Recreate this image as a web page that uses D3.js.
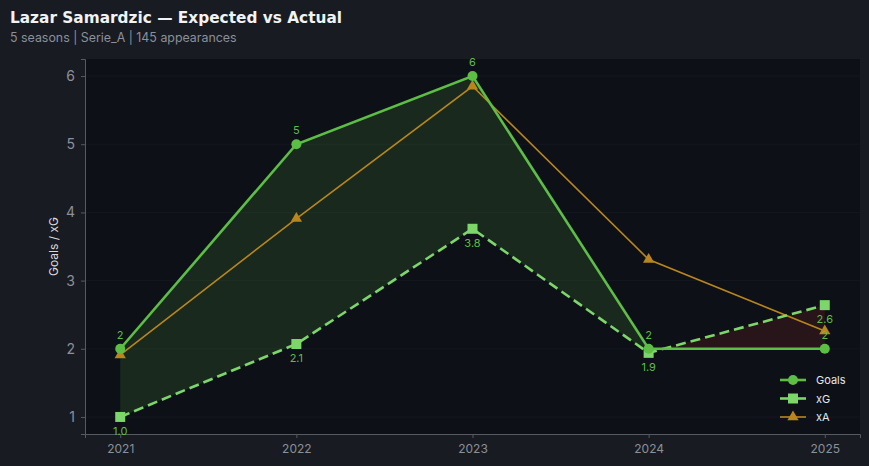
<!DOCTYPE html>
<html><head><meta charset="utf-8">
<script src="https://cdn.jsdelivr.net/npm/d3@7/dist/d3.min.js"></script>
<style>
body{margin:0;background:#181b22;}
svg{display:block;}
</style></head>
<body><svg id="c" width="869" height="466"></svg>
<script>
const seasons = [2021, 2022, 2023, 2024, 2025];
const goals = [2, 5, 6, 2, 2];
const xG = [1.0, 2.07, 3.76, 1.94, 2.64];
const xA = [1.91, 3.91, 5.85, 3.31, 2.26];
const yTicks = [1, 2, 3, 4, 5, 6];
const title = "Lazar Samardzic — Expected vs Actual";
const subtitle = "5 seasons | Serie_A | 145 appearances";

const W = 869, H = 466;
const m = {l: 85, r: 9, t: 59, b: 32};
const svg = d3.select("#c");
svg.append("rect").attr("width", W).attr("height", H).attr("fill", "#181b22");

const x = d3.scaleLinear().domain([2020.8, 2025.2]).range([m.l, W - m.r]);
const y = d3.scaleLinear().domain([0.75, 6.25]).range([H - m.b, m.t]);

svg.append("rect").attr("x", m.l).attr("y", m.t).attr("width", W - m.r - m.l).attr("height", H - m.b - m.t).attr("fill", "#0d1017");

// grid
svg.append("g").selectAll("line").data(yTicks).join("line")
  .attr("x1", m.l).attr("x2", W - m.r).attr("y1", d => y(d)).attr("y2", d => y(d))
  .attr("stroke", "#151922").attr("stroke-width", 0.8);

// fills between goals and xG with interpolation
const pts = seasons.map((s, i) => ({s, g: goals[i], e: xG[i]}));
function segs(sign) {
  const polys = [];
  let cur = null;
  for (let i = 0; i < pts.length; i++) {
    const p = pts[i];
    const ok = sign > 0 ? p.g >= p.e : p.g <= p.e;
    if (ok) {
      if (!cur) cur = [];
      cur.push(p);
    }
    if (i < pts.length - 1) {
      const q = pts[i + 1];
      const d0 = p.g - p.e, d1 = q.g - q.e;
      if (d0 * d1 < 0) {
        const t = d0 / (d0 - d1);
        const c = {s: p.s + t * (q.s - p.s), g: p.g + t * (q.g - p.g)};
        c.e = c.g;
        if (cur) { cur.push(c); polys.push(cur); cur = null; }
        else { cur = [c]; }
      }
    } else if (cur) polys.push(cur);
  }
  return polys;
}
const area = d3.area().x(d => x(d.s)).y0(d => y(d.e)).y1(d => y(d.g));
segs(1).forEach(poly => svg.append("path").attr("d", area(poly)).attr("fill", "#5dbe45").attr("fill-opacity", 0.15));
segs(-1).forEach(poly => svg.append("path").attr("d", area(poly)).attr("fill", "#c0392b").attr("fill-opacity", 0.15));

// axes
const yAxis = svg.append("g").attr("transform", `translate(${m.l},0)`)
  .call(d3.axisLeft(y).tickValues(yTicks).tickSize(4).tickPadding(6).tickFormat(d3.format("d")));
const xAxis = svg.append("g").attr("transform", `translate(0,${H - m.b})`)
  .call(d3.axisBottom(x).tickValues(seasons).tickSize(4).tickPadding(6).tickFormat(d3.format("d")));
[yAxis, xAxis].forEach(a => {
  a.select(".domain").attr("stroke", "#555a63");
  a.selectAll(".tick line").attr("stroke", "#555a63");
  a.selectAll(".tick text").attr("fill", "#8b9099").attr("font-family", "Inter, sans-serif");
});
yAxis.selectAll(".tick text").attr("font-size", 14);
xAxis.selectAll(".tick text").attr("font-size", 12);

svg.append("text").attr("transform", `translate(58,${(m.t + H - m.b) / 2}) rotate(-90)`)
  .attr("text-anchor", "middle").attr("fill", "#d8dadf").attr("font-size", 12)
  .attr("font-family", "Inter, sans-serif").text("Goals / xG");

const line = d3.line().x(d => x(d[0])).y(d => y(d[1]));
const gC = "#5dbe45", eC = "#7dd66a", aC = "#b8861d";

// xA
svg.append("path").attr("d", line(seasons.map((s, i) => [s, xA[i]])))
  .attr("fill", "none").attr("stroke", aC).attr("stroke-width", 1.6);
const tri = d3.symbol().type(d3.symbolTriangle).size(55);
svg.append("g").selectAll("path").data(seasons).join("path")
  .attr("d", tri).attr("transform", (s, i) => `translate(${x(s)},${y(xA[i])})`).attr("fill", aC);

// xG
svg.append("path").attr("d", line(seasons.map((s, i) => [s, xG[i]])))
  .attr("fill", "none").attr("stroke", eC).attr("stroke-width", 2.6).attr("stroke-dasharray", "10,5");
svg.append("g").selectAll("rect").data(seasons).join("rect")
  .attr("x", s => x(s) - 5).attr("y", (s, i) => y(xG[i]) - 5).attr("width", 10).attr("height", 10).attr("fill", eC);

// goals
svg.append("path").attr("d", line(seasons.map((s, i) => [s, goals[i]])))
  .attr("fill", "none").attr("stroke", gC).attr("stroke-width", 2.6);
svg.append("g").selectAll("circle").data(seasons).join("circle")
  .attr("cx", s => x(s)).attr("cy", (s, i) => y(goals[i])).attr("r", 5).attr("fill", gC);

// labels
svg.append("g").selectAll("text").data(seasons).join("text")
  .attr("x", s => x(s)).attr("y", (s, i) => y(goals[i]) - 10).attr("text-anchor", "middle")
  .attr("fill", gC).attr("font-size", 11).attr("font-family", "Inter, sans-serif").text((s, i) => goals[i]);
svg.append("g").selectAll("text").data(seasons).join("text")
  .attr("x", s => x(s)).attr("y", (s, i) => y(xG[i]) + 18).attr("text-anchor", "middle")
  .attr("fill", gC).attr("font-size", 11).attr("font-family", "Inter, sans-serif").text((s, i) => xG[i].toFixed(1));

// legend
const leg = [
  {name: "Goals", c: gC, k: "circle"},
  {name: "xG", c: eC, k: "square"},
  {name: "xA", c: aC, k: "tri"}
];
const lg = svg.append("g").attr("transform", "translate(780,380)");
leg.forEach((d, i) => {
  const g = lg.append("g").attr("transform", `translate(0,${i * 18.5})`);
  g.append("line").attr("x1", 0).attr("x2", 26).attr("stroke", d.c).attr("stroke-width", d.k === "tri" ? 1.6 : 2.6);
  if (d.k === "circle") g.append("circle").attr("cx", 13).attr("r", 5).attr("fill", d.c);
  else if (d.k === "square") g.append("rect").attr("x", 8).attr("y", -5).attr("width", 10).attr("height", 10).attr("fill", d.c);
  else g.append("path").attr("d", tri).attr("transform", "translate(13,0)").attr("fill", d.c);
  g.append("text").attr("x", 36).attr("y", 4).attr("fill", "#e6e7ea").attr("font-size", 11)
    .attr("font-family", "Inter, sans-serif").text(d.name);
});

// titles
svg.append("text").attr("x", 10).attr("y", 23).attr("fill", "#f1f2f4").attr("font-size", 16)
  .attr("font-weight", "bold").attr("font-family", "'DejaVu Sans', sans-serif")
  .attr("textLength", 332).attr("lengthAdjust", "spacingAndGlyphs").text(title);
svg.append("text").attr("x", 10).attr("y", 42).attr("fill", "#8b9099").attr("font-size", 12.4)
  .attr("font-family", "Inter, sans-serif").text(subtitle);
</script></body></html>
